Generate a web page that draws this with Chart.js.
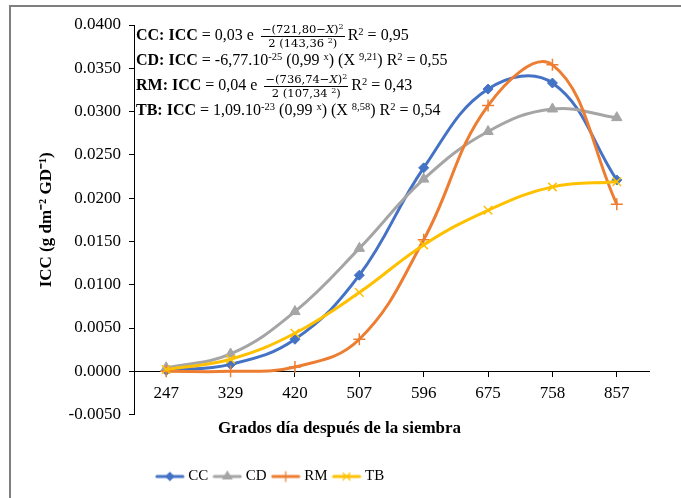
<!DOCTYPE html>
<html>
<head>
<meta charset="utf-8">
<script src="https://cdn.jsdelivr.net/npm/chart.js@4"></script>
<style>
  body { margin: 0; background: #fff; }
  #wrap { position: relative; width: 681px; height: 498px; overflow: hidden; }
  #frame { position: absolute; left: 9px; top: 5px; width: 700px; height: 600px;
           border-left: 2px solid #7f7f7f; border-top: 2px solid #7f7f7f; }
  #grafico { position: absolute; left: 0; top: 0; }
  #eq { position: absolute; left: 136px; top: 22px; font-family: "Liberation Serif", serif;
        font-size: 16px; color: #000; line-height: 25px; white-space: nowrap; }
  #eq .row { height: 25px; }
  #eq sup { font-size: 10.5px; vertical-align: 5px; line-height: 0; }
  .fr { display: inline-block; vertical-align: middle; text-align: center;
        font-family: "DejaVu Serif", serif; font-size: 11.5px; line-height: 13px; margin: 0 3px 0 3px; }
  .fr span { display: block; }
  .fr .num { border-bottom: 1px solid #000; padding: 0 1px; }
  .fr sup { font-size: 8px !important; vertical-align: 4px !important; }
</style>
</head>
<body>
<div id="wrap">
  <div id="frame"></div>
  <canvas id="grafico" width="681" height="498"></canvas>
  <div id="eq">
    <div class="row"><b>CC: ICC</b> = 0,03 e <span class="fr"><span class="num">−(721,80−<i>X</i>)<sup>2</sup></span><span class="den">2 (143,36 <sup>2</sup>)</span></span>R<sup>2</sup> = 0,95</div>
    <div class="row"><b>CD: ICC</b> = -6,77.10<sup>-25</sup> (0,99 <sup>x</sup>) (X <sup>9,21</sup>) R<sup>2</sup> = 0,55</div>
    <div class="row"><b>RM: ICC</b> = 0,04 e <span class="fr"><span class="num">−(736,74−<i>X</i>)<sup>2</sup></span><span class="den">2 (107,34 <sup>2</sup>)</span></span>R<sup>2</sup> = 0,43</div>
    <div class="row"><b>TB: ICC</b> = 1,09.10<sup>-23</sup> (0,99 <sup>x</sup>) (X <sup>8,58</sup>) R<sup>2</sup> = 0,54</div>
  </div>
</div>
<script>
var grados = ["247", "329", "420", "507", "596", "675", "758", "857"];
var cc = [0.0001, 0.0008, 0.0037, 0.0111, 0.0235, 0.0326, 0.0333, 0.0221];
var cd = [0.0004, 0.0020, 0.0069, 0.0142, 0.0222, 0.0277, 0.0303, 0.0293];
var rm = [0.0000, 0.0000, 0.0005, 0.0037, 0.0152, 0.0307, 0.0354, 0.0193];
var tb = [0.0002, 0.0014, 0.0044, 0.0091, 0.0146, 0.0186, 0.0213, 0.0219];
var nombres = ["CC", "CD", "RM", "TB"];
var colores = ["#4472C4", "#A5A5A5", "#ED7D31", "#FFC000"];
var marcas = ["rectRot", "triangle", "cross", "crossRot"];

Chart.defaults.font.family = "'Liberation Serif', 'Times New Roman', serif";
Chart.defaults.color = "#000";

// little line + marker picture for the legend
function muestra(color, estilo) {
  var c = document.createElement("canvas");
  c.width = 30; c.height = 14;
  var g = c.getContext("2d");
  g.strokeStyle = color; g.lineWidth = 3; g.lineCap = "round";
  g.beginPath(); g.moveTo(2, 7); g.lineTo(28, 7); g.stroke();
  g.fillStyle = color; g.lineWidth = 1.2;
  Chart.helpers.drawPoint(g, { pointStyle: estilo, radius: estilo == "rectRot" ? 4 : 5, borderWidth: 1.2 }, 15, 7);
  return c;
}

function serie(i, datos) {
  return {
    label: nombres[i],
    data: datos,
    borderColor: colores[i],
    backgroundColor: colores[i],
    borderWidth: 3,
    pointStyle: marcas[i],
    pointRadius: marcas[i] == "rectRot" ? 5 : 6,
    pointBorderWidth: marcas[i] == "rectRot" || marcas[i] == "triangle" ? 1 : 1.5,
    tension: 0.4,
    order: 4 - i
  };
}

var legendShift = {
  id: "legendShift",
  afterLayout: function (chart) {
    chart.legend.left -= 68;
    chart.legend.right -= 68;
  }
};

var ctx = document.getElementById("grafico");
var grafico = new Chart(ctx, {
  type: "line",
  data: {
    labels: grados,
    datasets: [serie(0, cc), serie(1, cd), serie(2, rm), serie(3, tb)]
  },
  options: {
    responsive: false,
    animation: false,
    layout: { padding: { top: 25, left: 30, right: 32, bottom: 4 } },
    scales: {
      x: {
        position: { y: 0 },
        offset: true,
        grid: { drawOnChartArea: false, color: "#000", tickLength: 5 },
        border: { color: "#000", width: 1 },
        ticks: { font: { size: 17 }, padding: 7, maxRotation: 0 }
      },
      y: {
        min: -0.005,
        max: 0.04,
        afterFit: function (s) { s.width = 104; },
        grid: { drawOnChartArea: false, color: "#000", tickLength: 5 },
        border: { color: "#000", width: 1 },
        ticks: {
          stepSize: 0.005,
          font: { size: 17 },
          padding: 8,
          callback: function (v) { return v.toFixed(4); }
        },
        title: {
          display: true,
          text: "ICC (g dm⁻² GD⁻¹)",
          font: { size: 17, weight: "bold" },
          padding: { top: 6, bottom: 0 }
        }
      }
    },
    plugins: {
      title: {
        display: true,
        position: "bottom",
        weight: 500,
        text: "Grados día después de la siembra",
        font: { size: 17, weight: "bold" },
        padding: { top: 4, bottom: 22 }
      },
      legend: {
        position: "bottom",
        labels: {
          usePointStyle: true,
          pointStyleWidth: 22,
          boxHeight: 12,
          padding: 8,
          font: { size: 15 },
          generateLabels: function (chart) {
            return chart.data.datasets.map(function (d, i) {
              return {
                text: d.label,
                pointStyle: muestra(colores[i], marcas[i]),
                fillStyle: colores[i],
                strokeStyle: colores[i],
                lineWidth: 0,
                fontColor: "#000",
                hidden: false,
                datasetIndex: i
              };
            });
          }
        }
      },
      tooltip: { enabled: false }
    }
  },
  plugins: [legendShift]
});
</script>
</body>
</html>
